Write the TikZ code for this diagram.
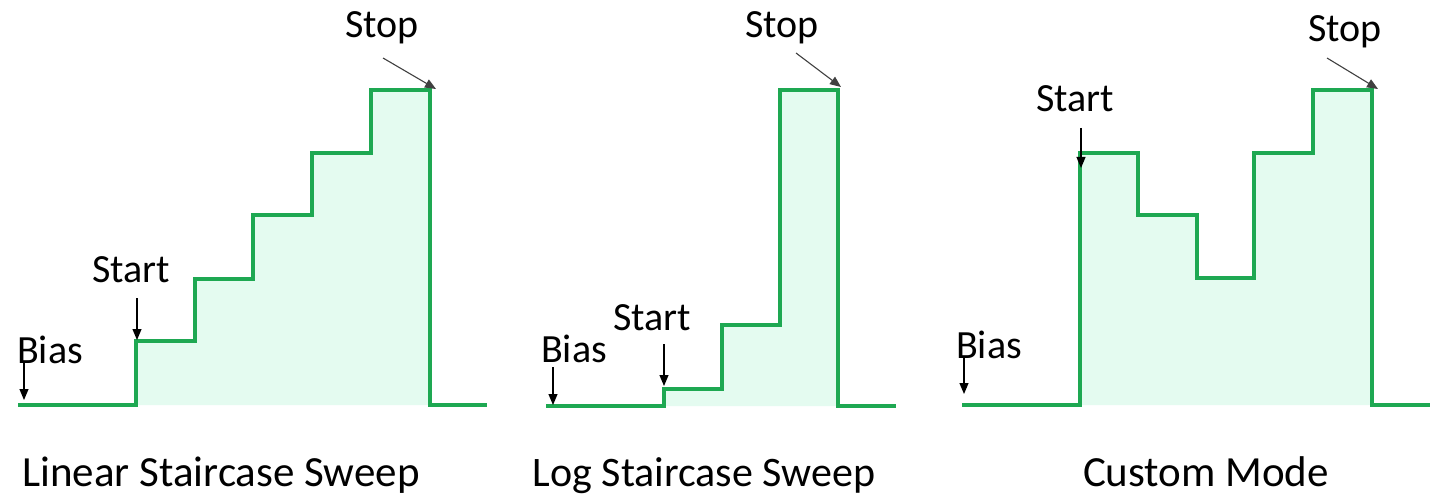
\documentclass[tikz,border=0pt]{standalone}
\usepackage{fontspec}
\setmainfont{Carlito}
\usetikzlibrary{arrows.meta}
\definecolor{stepgreen}{RGB}{30,168,82}
\definecolor{stepfill}{RGB}{228,251,240}
\begin{document}
\begin{tikzpicture}[x=1pt,y=-1pt,
  wave/.style={draw=stepgreen,line width=4.5pt,line join=miter},
  area/.style={fill=stepfill,draw=none},
  lbl/.style={inner sep=0pt,anchor=base west,font=\fontsize{40}{44}\selectfont},
  ttl/.style={inner sep=0pt,anchor=base,font=\fontsize{43}{48}\selectfont},
  pointer/.style={draw=black,line width=1.1pt,-{Triangle[width=9pt,length=11pt]}},
  slant/.style={draw=black!75,line width=1.1pt,-{Triangle[width=9pt,length=11pt]}}]
\useasboundingbox (0,0) rectangle (1432,497);
\fill[white] (0,0) rectangle (1432,497);
% ---------- Panel 1: Linear ----------
\path[area] (136,405) -- (136,341) -- (195,341) -- (195,279) -- (253,279) -- (253,215) -- (312,215) -- (312,153) -- (371,153) -- (371,90) -- (430,90) -- (430,405) -- cycle;
\draw[wave] (18,405) -- (136,405) -- (136,341) -- (195,341) -- (195,279) -- (253,279) -- (253,215) -- (312,215) -- (312,153) -- (371,153) -- (371,90) -- (430,90) -- (430,405) -- (487,405);
\node[lbl] (biasA) at (17,363) {Bias};
\node[lbl] (startA) at (92,282) {Start};
\node[lbl] (stopA) at (345,38) {Stop};
\coordinate (biasAt) at (24,362); \coordinate (biasAh) at (24,400);
\coordinate (startAt) at (137,298); \coordinate (startAh) at (137,340);
\coordinate (stopAt) at (383,58); \coordinate (stopAh) at (436,89);
\draw[pointer] (biasAt) -- (biasAh);
\draw[pointer] (startAt) -- (startAh);
\draw[slant] (stopAt) -- (stopAh);
\node[ttl] (titleA) at (221,486) {Linear Staircase Sweep};
% ---------- Panel 2: Log ----------
\path[area] (664,406) -- (664,389) -- (722,389) -- (722,325) -- (780,325) -- (780,90) -- (838,90) -- (838,406) -- cycle;
\draw[wave] (546,406) -- (664,406) -- (664,389) -- (722,389) -- (722,325) -- (780,325) -- (780,90) -- (838,90) -- (838,406) -- (896,406);
\node[lbl] (biasB) at (541,362) {Bias};
\node[lbl] (startB) at (613,330) {Start};
\node[lbl] (stopB) at (745,38) {Stop};
\coordinate (biasBt) at (553,367); \coordinate (biasBh) at (553,405);
\coordinate (startBt) at (664,344); \coordinate (startBh) at (664,386);
\coordinate (stopBt) at (796,53); \coordinate (stopBh) at (841,87);
\draw[pointer] (biasBt) -- (biasBh);
\draw[pointer] (startBt) -- (startBh);
\draw[slant] (stopBt) -- (stopBh);
\node[ttl,font=\fontsize{42}{47}\selectfont] (titleB) at (704,486) {Log Staircase Sweep};
% ---------- Panel 3: Custom ----------
\path[area] (1080,405) -- (1080,153) -- (1138,153) -- (1138,215) -- (1197,215) -- (1197,278) -- (1254,278) -- (1254,153) -- (1313,153) -- (1313,90) -- (1372,90) -- (1372,405) -- cycle;
\draw[wave] (962,405) -- (1080,405) -- (1080,153) -- (1138,153) -- (1138,215) -- (1197,215) -- (1197,278) -- (1254,278) -- (1254,153) -- (1313,153) -- (1313,90) -- (1372,90) -- (1372,405) -- (1430,405);
\node[lbl] (biasC) at (956,358) {Bias};
\node[lbl] (startC) at (1036,112) {Start};
\node[lbl] (stopC) at (1308,42) {Stop};
\coordinate (biasCt) at (964,358); \coordinate (biasCh) at (964,394);
\coordinate (startCt) at (1081,128); \coordinate (startCh) at (1081,168);
\coordinate (stopCt) at (1327,58); \coordinate (stopCh) at (1378,89);
\draw[pointer] (biasCt) -- (biasCh);
\draw[pointer] (startCt) -- (startCh);
\draw[slant] (stopCt) -- (stopCh);
\node[ttl] (titleC) at (1206,486) {Custom Mode};
\end{tikzpicture}
\end{document}
